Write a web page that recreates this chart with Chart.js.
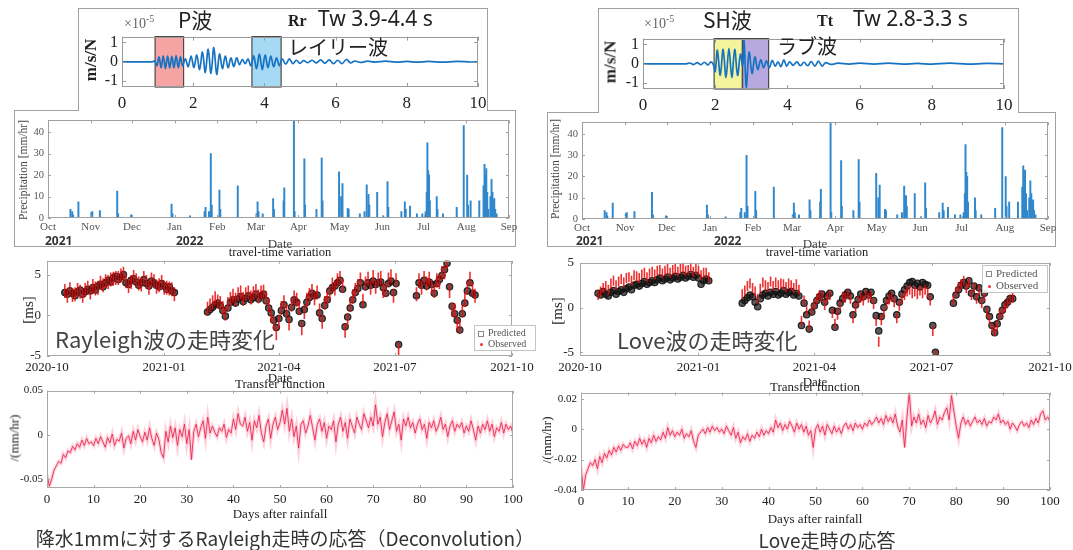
<!DOCTYPE html>
<html lang="ja">
<head>
<meta charset="utf-8">
<script src="https://cdn.jsdelivr.net/npm/chart.js@4.4.1/dist/chart.umd.min.js"></script>
<style>
  body { margin:0; width:1073px; height:550px; position:relative; overflow:hidden; background:#fff; }
  canvas { position:absolute; }
  .t { position:absolute; white-space:nowrap; line-height:1; color:#222; font-family:"Noto Sans CJK JP","Noto Sans",sans-serif; }
  .s { font-family:"Liberation Serif","DejaVu Serif",serif; }
  .ns { font-family:"Noto Sans",sans-serif; }
  .ctr { transform:translate(-50%,-50%); }
  .rot { transform:translate(-50%,-50%) rotate(-90deg); }
  .frame { position:absolute; box-sizing:border-box; border:1px solid #a0a0a0; background:#fff; }
  .legend { position:absolute; box-sizing:border-box; border:1px solid #c4c4c4; background:rgba(255,255,255,0.9);
            font-family:"Liberation Serif",serif; color:#555; padding:1px 3px; }
  .legend div { white-space:nowrap; }
  .sq { display:inline-block; width:4px; height:4px; border:1px solid #888; margin-right:4px; vertical-align:middle; }
  .dot { display:inline-block; width:3px; height:3px; background:#e33; border-radius:50%; margin:0 5px 0 2px; vertical-align:middle; }
</style>
</head>
<body>

<div class="frame" style="left:14px;top:110px;width:502px;height:137px;"></div>
<div class="frame" style="left:78px;top:8px;width:410px;height:103px;border-bottom:none;"></div>
<div class="frame" style="left:547px;top:112px;width:509px;height:135px;"></div>
<div class="frame" style="left:598px;top:8px;width:421px;height:105px;border-bottom:none;"></div>

<canvas id="rayWave"></canvas>
<canvas id="loveWave"></canvas>
<canvas id="rayRain"></canvas>
<canvas id="loveRain"></canvas>
<canvas id="rayTT"></canvas>
<canvas id="loveTT"></canvas>
<canvas id="rayTF"></canvas>
<canvas id="loveTF"></canvas>

<!-- waveform labels -->
<div class="t s" style="left:124px;top:14px;font-size:14px;color:#666;">×10<sup style="font-size:10px;">-5</sup></div>
<div class="t" style="left:178px;top:9px;font-size:21px;">P波</div>
<div class="t s" style="left:288px;top:13px;font-size:16px;font-weight:bold;">Rr</div>
<div class="t ns" style="left:318px;top:8px;font-size:21px;">Tw 3.9-4.4 s</div>
<div class="t" style="left:288px;top:37px;font-size:20px;">レイリー波</div>
<div class="t s rot" style="left:90px;top:60px;font-size:17px;font-weight:bold;">m/s/N</div>

<div class="t s" style="left:644px;top:14px;font-size:14px;color:#666;">×10<sup style="font-size:10px;">-5</sup></div>
<div class="t" style="left:703px;top:9px;font-size:21px;">SH波</div>
<div class="t s" style="left:817px;top:13px;font-size:16px;font-weight:bold;">Tt</div>
<div class="t ns" style="left:853px;top:8px;font-size:21px;">Tw 2.8-3.3 s</div>
<div class="t" style="left:777px;top:36px;font-size:20px;">ラブ波</div>
<div class="t s rot" style="left:610px;top:62px;font-size:17px;font-weight:bold;">m/s/N</div>

<!-- precipitation labels -->
<div class="t s rot" style="left:24px;top:170px;font-size:11.5px;color:#444;">Precipitation [mm/hr]</div>
<div class="t ns" style="left:45px;top:235px;font-size:12px;font-weight:bold;color:#333;">2021</div>
<div class="t ns" style="left:176px;top:235px;font-size:12px;font-weight:bold;color:#333;">2022</div>
<div class="t s ctr" style="left:280px;top:243px;font-size:13px;color:#444;">Date</div>

<div class="t s rot" style="left:556px;top:169px;font-size:11.5px;color:#444;">Precipitation [mm/hr]</div>
<div class="t ns" style="left:576px;top:235px;font-size:12px;font-weight:bold;color:#333;">2021</div>
<div class="t ns" style="left:714px;top:235px;font-size:12px;font-weight:bold;color:#333;">2022</div>
<div class="t s ctr" style="left:815px;top:243px;font-size:13px;color:#444;">Date</div>

<!-- travel-time labels -->
<div class="t s ctr" style="left:280px;top:252px;font-size:12.5px;">travel-time variation</div>
<div class="t s rot" style="left:28px;top:310px;font-size:15px;">[ms]</div>
<div class="t s ctr" style="left:280px;top:377px;font-size:13px;">Date</div>
<div class="t" style="left:55px;top:327px;font-size:22px;color:#444;">Rayleigh波の走時変化</div>
<div class="legend" style="left:474px;top:325px;width:62px;font-size:10px;line-height:11px;">
  <div><span class="sq"></span>Predicted</div>
  <div><span class="dot"></span>Observed</div>
</div>

<div class="t s ctr" style="left:817px;top:252px;font-size:12.5px;">travel-time variation</div>
<div class="t s rot" style="left:557px;top:311px;font-size:15px;">[ms]</div>
<div class="t s ctr" style="left:815px;top:381px;font-size:13px;">Date</div>
<div class="t" style="left:617px;top:328px;font-size:22px;color:#444;">Love波の走時変化</div>
<div class="legend" style="left:982px;top:265px;width:66px;font-size:11px;line-height:12px;">
  <div><span class="sq"></span>Predicted</div>
  <div><span class="dot"></span>Observed</div>
</div>

<!-- transfer function labels -->
<div class="t s ctr" style="left:280px;top:383px;font-size:13px;">Transfer function</div>
<div class="t s rot" style="left:14px;top:438px;font-size:13px;">/(mm/hr)</div>
<div class="t s ctr" style="left:280px;top:513px;font-size:13px;">Days after rainfall</div>
<div class="t ctr" style="left:285px;top:537px;font-size:19px;color:#333;">降水1mmに対するRayleigh走時の応答（Deconvolution）</div>

<div class="t s ctr" style="left:815px;top:386px;font-size:13px;">Transfer function</div>
<div class="t s rot" style="left:546px;top:440px;font-size:13px;">/(mm/hr)</div>
<div class="t s ctr" style="left:815px;top:518px;font-size:13px;">Days after rainfall</div>
<div class="t ctr" style="left:827px;top:539px;font-size:19px;color:#333;">Love走時の応答</div>

<script>
// ---- waveforms (time in s, amplitude in 1e-5 m/s/N) ----
const rayWaveT = [0,0.85,0.92,0.98,1.04,1.1,1.16,1.22,1.28,1.34,1.4,1.46,1.52,1.58,1.64,1.7,1.78,1.86,1.94,2.02,
  2.1,2.18,2.26,2.34,2.42,2.5,2.58,2.66,2.74,2.82,2.9,2.98,3.06,3.14,3.22,3.3,3.38,3.46,3.54,3.62,3.7,3.78,3.86,
  3.94,4.02,4.1,4.18,4.26,4.34,4.42,4.5,4.6,4.7,4.8,4.9,5.0,5.1,5.22,5.34,5.46,5.58,5.7,5.82,5.94,6.06,6.18,6.3,
  6.42,6.54,6.7,6.9,7.1,7.4,7.7,8.0,8.3,8.6,9.0,9.4,9.8,10];
const rayWaveA = [0,0,0.05,-0.2,0.25,-0.3,0.3,-0.35,0.3,-0.32,0.28,-0.3,0.32,-0.3,0.25,-0.2,0.15,-0.25,0.3,-0.3,
  0.35,-0.4,0.5,-0.55,0.65,-0.6,0.75,-0.65,0.4,-0.35,0.3,-0.3,0.2,-0.25,0.2,-0.15,0.12,-0.1,0.15,-0.2,0.3,-0.35,0.4,
  -0.4,0.35,-0.3,0.3,-0.25,0.2,-0.2,0.15,-0.12,0.15,-0.1,0.08,-0.08,0.06,-0.05,0.08,-0.06,0.1,-0.08,0.1,-0.1,0.08,-0.1,0.12,
  -0.06,0.04,-0.03,0.03,-0.02,0.03,-0.02,0.02,-0.02,0.02,-0.02,0.02,-0.01,0];
const rayWinStart = [0.93, 3.65];
const rayWinEnd = [1.73, 4.47];

const loveWaveT = [0,1.2,1.3,1.4,1.5,1.6,1.7,1.8,1.88,1.95,2.0,2.06,2.14,2.22,2.3,2.38,2.46,2.54,2.62,2.7,2.76,2.8,
  2.86,2.94,3.02,3.1,3.18,3.26,3.34,3.42,3.5,3.58,3.66,3.74,3.82,3.9,3.98,4.06,4.16,4.26,4.36,4.46,4.56,4.66,4.76,
  4.86,4.96,5.06,5.2,5.4,5.7,6.0,6.4,6.8,7.2,7.6,8.0,8.5,9.0,9.5,10];
const loveWaveA = [0,0,0.04,-0.04,0.06,-0.05,0.08,-0.06,0.1,-0.05,-0.4,0.7,-0.6,0.75,-0.7,0.8,-0.7,0.75,-0.6,0.5,-0.1,1.2,
  -1.2,0.6,-0.5,0.35,-0.3,0.2,-0.2,0.15,-0.2,0.18,-0.12,0.1,-0.15,0.2,-0.12,0.1,-0.08,0.1,-0.1,0.08,-0.1,0.12,-0.12,
  0.14,-0.12,0.06,-0.03,0.03,-0.02,0.03,-0.02,0.03,-0.02,0.02,-0.02,0.03,-0.02,0.02,0];
const loveWinStart = [1.97, 2.76];
const loveWinEnd = [2.75, 3.48];

const waveXTicks = [0, 2, 4, 6, 8, 10];
const waveYTicks = [-1, 0, 1];

// ---- precipitation (days since 2021-10-01, mm/hr) ----
const rainDay = [16.3,17.6,18.2,22.1,31.5,32.2,37.7,50.3,51,60.4,89.8,90.5,103.2,113.8,114.5,117,118.3,119,124.6,125.2,
  137.9,151.5,152.3,153,156,163.6,164.2,171.2,171.7,178.7,179.2,186.3,186.8,195.1,198.9,199.5,211.5,213,214,217.8,
  218.5,226.6,230,231.6,232.9,233.5,239.2,243.7,246.7,247.3,256.8,259.3,260,263.1,268.1,272,274.4,275.2,275.7,276.3,
  276.9,277.5,282.5,283,287,297,302.1,304.6,305.2,307.1,313.4,316.5,317.2,317.8,318.5,319.2,320,321.5,322.3,323,
  323.6,324.3,325,326];
const rainMm = [4,3,1.5,7.5,2.5,3,3.5,12.5,2,1.5,6.5,2,1,3,5,3,30,6,13,4,
  15,2,7.5,3,2,9,4,8,14,45,3,27.5,6,4,28,8,21.5,10,16,4.5,
  4,2,3,15.5,11,6,12,1,17,5,3,7.5,4,5.5,2,2,3,12,35,22,
  20,8,10,4,2,5,43,20,6,8,8,15,25,20,23,12,4,10,18,12,
  8,9,4,2];
const monthDays = [0,31,61,92,123,151,182,212,243,273,304,335];
const monthNames = ['Oct','Nov','Dec','Jan','Feb','Mar','Apr','May','Jun','Jul','Aug','Sep'];
const rainYTicks = [0, 10, 20, 30, 40];

// ---- travel-time variation (days since 2020-10-01, ms) ----
const ttDays = [14,16,18,20,22,24,26,28,30,32,34,36,38,40,42,44,46,48,50,52,54,56,58,60,62,64,66,68,70,72,74,76,78,
  80,82,84,86,88,90,92,94,96,98,100,
  126,128,130,132,134,136,138,140,142,144,146,148,150,152,154,156,158,160,162,164,166,168,170,172,174,176,178,180,
  182,184,186,188,190,192,194,196,198,200,202,204,206,208,210,212,214,216,218,220,222,224,226,228,230,232,234,236,
  238,240,242,244,246,248,250,252,254,256,258,260,262,264,266,268,270,272,274,276,
  290,292,294,296,298,300,302,304,306,308,310,312,314,316,318,320,322,324,326,328,330,332,334,336];
const rayPred = [2.8,2.6,3.0,2.7,2.4,2.9,3.1,2.6,2.9,3.2,3.0,3.4,3.1,3.6,3.8,3.5,4.0,4.3,4.1,4.6,4.8,4.4,4.7,5.0,4.0,
  3.8,4.3,4.5,4.1,3.7,4.0,4.4,3.9,3.6,4.2,4.0,3.7,3.5,3.9,3.6,3.2,3.5,3.0,2.8,
  0.4,0.7,1.0,1.3,1.5,1.2,0.6,-0.1,0.9,1.6,1.9,1.5,2.0,2.3,1.7,2.1,2.4,1.9,2.2,2.6,2.0,2.4,2.6,1.8,0.9,0.3,-0.6,-1.5,
  -0.4,0.6,1.3,0.2,-0.5,1.0,1.9,1.6,0.5,-1.0,0.7,1.6,2.2,2.7,2.4,2.5,0.3,-0.4,1.2,1.9,3.0,3.4,3.6,4.0,4.3,3.2,-1.4,-0.2,
  0.9,1.9,2.8,3.3,4.0,1.3,3.5,4.0,3.7,4.2,3.8,4.0,4.1,3.4,2.7,3.9,4.2,2.8,3.9,-3.6,
  2.4,4.0,3.7,4.3,3.6,4.1,3.8,2.7,3.9,4.4,4.9,5.6,6.4,3.5,1.1,0.2,-0.6,-1.8,0.2,1.5,3.0,4.0,2.7,2.5];
const rayObs = [3.0,2.4,3.2,2.5,2.6,3.1,2.9,2.4,3.1,3.4,2.8,3.6,3.3,3.4,4.0,3.7,4.2,4.1,4.4,4.5,4.6,4.6,4.9,5.1,4.2,
  3.6,4.1,4.7,4.3,3.9,3.8,4.6,4.1,3.4,4.4,4.2,3.5,3.7,4.1,3.4,3.4,3.3,3.2,2.6,
  0.8,1.2,1.6,2.1,1.7,1.5,0.9,0.2,1.4,2.0,2.4,1.9,2.6,2.8,2.0,2.6,2.8,2.2,2.7,3.0,2.3,2.8,2.9,2.1,1.2,0.0,-0.9,-2.2,
  -0.8,0.9,1.6,0.5,-1.0,1.3,2.2,1.9,0.9,-1.6,0.4,1.9,2.5,3.0,2.1,2.8,0.6,-0.8,1.5,2.2,2.7,3.8,3.3,4.3,4.6,3.6,-1.9,-0.6,
  1.3,2.3,3.1,3.6,4.4,1.8,3.9,4.5,3.4,4.7,3.5,4.4,4.6,3.0,3.1,4.4,4.8,2.4,4.3,-4.2,
  2.6,4.3,3.4,4.6,3.9,4.5,3.5,3.0,4.3,4.1,5.2,5.3,6.6,3.0,0.7,0.6,-1.0,-1.4,0.6,1.9,3.4,4.5,3.1,2.4];
const lovePred = [1.6,1.4,1.8,1.5,1.3,1.7,1.9,1.5,1.8,2.0,1.7,2.1,2.3,2.0,2.5,2.6,2.4,2.7,2.9,2.6,2.8,3.0,2.8,3.1,3.3,
  3.0,3.2,3.4,3.1,3.3,3.5,3.2,3.4,3.6,3.3,3.5,3.7,3.4,3.6,3.3,2.6,3.0,3.2,3.0,
  0.5,0.8,1.1,1.4,1.2,0.6,0.1,1.0,1.4,1.6,1.3,1.7,1.5,1.8,1.4,1.6,1.9,1.5,1.7,1.8,1.4,1.6,1.3,-2.0,0.5,-0.8,-2.4,-0.5,
  0.2,0.8,1.2,1.5,0.6,1.3,1.6,-0.3,-2.2,-0.4,0.5,1.0,1.4,1.7,1.3,-0.8,0.3,0.9,1.5,1.2,1.8,1.4,1.7,0.8,-0.9,-2.6,-1.0,0.0,
  0.8,1.3,1.6,1.0,-0.8,0.6,1.5,2.0,2.4,2.8,2.9,2.5,2.7,2.3,2.8,2.6,2.5,1.2,-2.0,-5.0,
  0.5,1.4,2.0,2.5,2.8,2.4,3.0,1.6,2.4,1.2,2.2,0.8,1.6,-0.2,-1.0,-2.0,-2.8,-1.8,-1.0,-0.3,0.3,0.6,1.0,1.0];
const loveObs = [1.4,1.8,2.2,2.4,2.0,2.7,3.0,2.5,2.9,3.2,2.8,3.3,3.4,3.0,3.6,3.5,3.3,3.7,3.9,3.4,3.8,4.0,3.7,4.1,4.2,
  3.8,4.1,4.3,3.9,4.2,4.4,4.0,4.3,4.5,4.1,4.2,4.6,4.0,4.3,4.1,3.6,3.9,3.9,3.4,
  1.5,1.9,2.4,2.7,2.2,1.8,1.0,2.1,2.8,2.5,2.3,2.9,2.4,2.8,2.5,2.7,2.6,2.3,2.7,2.5,2.2,2.6,2.0,-1.5,0.8,-0.4,-2.0,-0.2,
  0.4,1.0,1.4,1.2,0.3,1.1,1.4,-0.6,-1.8,-0.8,0.2,1.2,1.1,1.5,1.0,-1.2,0.0,0.7,1.2,0.8,1.5,1.1,1.3,0.4,-1.5,-3.8,-1.4,-0.6,
  0.4,0.9,1.2,0.6,-1.2,0.2,1.0,1.4,1.8,2.0,1.6,1.8,1.5,1.9,1.6,2.0,1.7,0.8,-2.6,-5.3,
  0.8,1.7,2.3,2.6,3.0,2.2,2.8,1.4,2.2,1.0,2.0,0.5,1.3,-0.5,-1.3,-2.3,-2.6,-2.0,-0.8,-0.5,0.1,0.5,0.9,1.1];
const ttTickDays = [0, 92, 182, 273, 365];
const ttTickNames = ['2020-10','2021-01','2021-04','2021-07','2021-10'];
const ttYTicks = [-5, 0, 5];

// ---- transfer functions (one value every half day, 0..100 days) ----
const tfStep = 0.5;
const rayTF = [-0.045,-0.058,-0.05,-0.04,-0.035,-0.03,-0.032,-0.022,-0.026,-0.018,-0.02,-0.013,-0.017,-0.01,-0.014,-0.006,-0.012,-0.004,-0.01,-0.008,
  -0.012,-0.004,-0.01,-0.002,-0.008,-0.014,-0.003,-0.009,0.001,-0.012,-0.005,-0.007,0.002,-0.015,-0.004,-0.001,-0.01,0.004,-0.006,0.006,
  -0.002,-0.008,0.003,-0.006,0.008,-0.004,-0.012,0.002,-0.005,-0.02,-0.026,0.004,-0.008,0.01,-0.003,0.008,-0.012,0.006,-0.002,0.012,
  -0.01,0.006,-0.028,0.004,0.012,-0.002,0.008,0.016,-0.004,0.02,0.002,0.01,0.003,-0.002,0.008,0.004,0.012,-0.003,0.006,0.002,
  0.018,0.006,0.024,0.012,0.01,0.02,0.004,0.014,-0.006,0.016,0.008,0.022,0.002,-0.008,0.01,0.018,-0.004,0.012,0.02,0.006,
  0.014,0.028,0.012,0.03,0.004,0.018,-0.002,0.01,-0.015,0.012,0.016,0.002,0.01,0.022,0.008,-0.006,0.012,0.018,0.004,0.014,
  -0.004,0.01,0.006,0.016,-0.008,0.012,0.02,0.004,0.014,-0.004,0.018,0.01,0.002,0.02,0.012,0.006,0.024,0.016,0.008,0.02,
  0.01,0.034,0.012,0.02,-0.002,0.014,0.024,0.006,0.016,0.026,0.004,0.012,-0.006,0.018,0.01,0.02,0.008,0.014,0.002,0.012,
  0.018,0.006,0.012,-0.004,0.014,0.008,0.016,0.004,0.01,0.02,0.006,0.012,-0.002,0.01,0.016,0.004,0.012,0.008,0.014,0.002,
  0.01,0.004,0.016,0.006,-0.006,0.01,0.002,0.012,0.006,0.016,0.004,0.012,-0.002,0.008,0.004,0.014,0.002,0.012,0.006,0.01,0.002];
const loveTF = [-0.025,-0.04,-0.03,-0.026,-0.022,-0.024,-0.02,-0.026,-0.018,-0.022,-0.016,-0.019,-0.014,-0.017,-0.012,-0.015,-0.011,-0.014,-0.01,-0.012,
  -0.012,-0.009,-0.013,-0.008,-0.011,-0.006,-0.01,-0.007,-0.012,-0.006,-0.009,-0.004,-0.008,-0.005,-0.007,-0.002,-0.006,0.001,-0.004,-0.001,
  -0.005,-0.002,-0.004,0.0,-0.006,-0.003,-0.005,-0.001,-0.008,-0.012,-0.004,-0.002,0.0,-0.003,0.001,-0.002,0.002,-0.001,0.001,-0.002,
  0.0,-0.003,0.002,-0.001,-0.004,0.001,-0.006,-0.002,-0.009,-0.005,-0.007,-0.003,-0.008,-0.004,-0.006,-0.002,-0.005,0.0,-0.004,-0.001,
  -0.003,0.001,-0.002,0.006,0.001,0.004,-0.001,0.003,0.0,0.005,0.002,-0.002,0.004,0.0,0.003,-0.002,0.002,-0.004,-0.001,-0.012,
  0.0,0.003,-0.002,0.002,-0.004,0.003,0.0,-0.003,0.002,-0.002,0.001,-0.003,0.002,0.004,0.0,0.003,-0.001,0.004,0.001,0.003,
  0.0,0.004,0.002,0.006,0.003,0.005,0.008,0.004,0.007,0.003,0.009,0.005,0.008,0.004,0.01,0.002,-0.002,0.006,-0.012,0.008,
  0.024,0.002,0.008,0.004,0.01,0.003,0.006,0.001,0.009,0.004,0.007,0.012,0.003,0.008,0.006,0.011,0.014,0.006,0.022,0.012,
  0.002,-0.006,0.004,0.008,0.003,0.006,0.002,0.005,0.008,0.004,0.006,0.003,0.007,0.002,0.005,0.004,0.008,0.006,0.01,0.004,
  0.006,0.003,0.005,0.0,0.004,0.002,-0.001,0.003,0.005,0.002,0.004,0.001,0.006,0.003,0.007,0.004,0.01,0.012,0.006,0.008,0.005];
const tfXTicks = [0,10,20,30,40,50,60,70,80,90,100];
const rayTFYTicks = [-0.05, 0, 0.05];
const loveTFYTicks = [-0.04, -0.02, 0, 0.02];

// ---------------------------------------------------------------
const SERIF = '"Liberation Serif", "DejaVu Serif", serif';

// matlab-like box with inward tick marks
const boxPlugin = {
  id: 'box',
  afterDraw(chart, args, opts) {
    const { ctx, chartArea: a, scales } = chart;
    const L = opts.len || 4;
    ctx.save();
    ctx.strokeStyle = opts.color || '#8a8a8a';
    ctx.lineWidth = 1;
    ctx.strokeRect(Math.round(a.left) + 0.5, Math.round(a.top) + 0.5, Math.round(a.width) - 1, Math.round(a.height) - 1);
    ctx.beginPath();
    scales.x.ticks.forEach(t => {
      const p = Math.round(scales.x.getPixelForValue(t.value)) + 0.5;
      ctx.moveTo(p, a.bottom); ctx.lineTo(p, a.bottom - L);
      ctx.moveTo(p, a.top); ctx.lineTo(p, a.top + L);
    });
    scales.y.ticks.forEach(t => {
      const p = Math.round(scales.y.getPixelForValue(t.value)) + 0.5;
      ctx.moveTo(a.left, p); ctx.lineTo(a.left + L, p);
      ctx.moveTo(a.right, p); ctx.lineTo(a.right - L, p);
    });
    ctx.stroke();
    ctx.restore();
  }
};

// shaded time windows on the waveforms
const windowPlugin = {
  id: 'windows',
  beforeDatasetsDraw(chart, args, opts) {
    if (!opts.start) return;
    const { ctx, chartArea: a, scales: { x } } = chart;
    ctx.save();
    opts.start.forEach((s, i) => {
      const x0 = x.getPixelForValue(s), x1 = x.getPixelForValue(opts.end[i]);
      ctx.fillStyle = opts.fill[i];
      ctx.fillRect(x0, a.top, x1 - x0, a.height);
      ctx.strokeStyle = '#4a4a4a';
      ctx.lineWidth = 1.2;
      ctx.strokeRect(x0, a.top, x1 - x0, a.height);
    });
    ctx.restore();
  }
};

function axis(ticks, names, min, max, font, pad, color) {
  return {
    type: 'linear', min: min, max: max, offset: false,
    grid: { display: false, drawTicks: false }, border: { display: false },
    afterBuildTicks: s => { s.ticks = ticks.map(v => ({ value: v })); },
    ticks: {
      autoSkip: false, maxRotation: 0, minRotation: 0, padding: pad, color: color,
      font: { family: SERIF, size: font },
      callback: (v, i) => names ? names[i] : String(ticks[i])
    }
  };
}

function makeChart(id, box, ml, mb, type, datasets, xAxis, yAxis, extra) {
  const PT = 10, PR = 30;
  const cv = document.getElementById(id);
  cv.width = box[2] - box[0] + ml + PR;
  cv.height = box[3] - box[1] + PT + mb;
  cv.style.left = (box[0] - ml) + 'px';
  cv.style.top = (box[1] - PT) + 'px';
  xAxis.afterFit = s => { s.height = mb; };
  yAxis.afterFit = s => { s.width = ml; };
  return new Chart(cv, {
    type: type,
    data: { datasets: datasets },
    options: {
      responsive: false, animation: false, events: [],
      layout: { padding: { top: PT, right: PR, left: 0, bottom: 0 }, autoPadding: false },
      plugins: Object.assign({ legend: { display: false }, tooltip: { enabled: false } }, extra || {}),
      scales: { x: xAxis, y: yAxis }
    },
    plugins: [windowPlugin, boxPlugin]
  });
}

const pts = (xs, ys) => ys.map((v, i) => ({ x: xs[i], y: v }));
const tfPts = arr => arr.map((v, i) => ({ x: i * tfStep, y: v }));

// waveforms
function waveChart(id, box, t, a, ws, we, fills) {
  makeChart(id, box, 40, 30, 'line', [{
      data: pts(t, a), borderColor: '#1673c2', borderWidth: 1.7, pointRadius: 0, tension: 0.35
    }],
    axis(waveXTicks, null, 0, 10, 17, 6, '#222'),
    axis(waveYTicks, null, -1.3, 1.3, 16, 4, '#222'),
    { windows: { start: ws, end: we, fill: fills }, box: { color: '#9a9a9a', len: 4 } });
}
waveChart('rayWave', [122, 33, 478, 87], rayWaveT, rayWaveA, rayWinStart, rayWinEnd, ['#f6a3a3', '#a6daf4']);
waveChart('loveWave', [643, 35, 1004, 89], loveWaveT, loveWaveA, loveWinStart, loveWinEnd, ['#f4f49c', '#b8a8e0']);

// precipitation
function rainChart(id, box) {
  makeChart(id, box, 30, 22, 'bar', [{
      data: pts(rainDay, rainMm), backgroundColor: '#3088cc', borderWidth: 0, barThickness: 1.3
    }],
    axis(monthDays, monthNames, 0, 335, 11, 3, '#555'),
    axis(rainYTicks, null, 0, 45.5, 10.5, 4, '#555'),
    { box: { color: '#a0a0a0', len: 3 } });
}
rainChart('rayRain', [48, 120, 509, 218]);
rainChart('loveRain', [582, 122, 1048, 219]);

// travel-time variation
function ttChart(id, box, pred, obs, yMin, yMax, obsLen) {
  makeChart(id, box, 35, 24, 'scatter', [
      { data: pts(ttDays, obs), pointStyle: 'line', rotation: 90, pointRadius: obsLen,
        borderColor: 'rgba(235,10,10,0.85)', borderWidth: 1.6, order: 0 },
      { data: pts(ttDays, pred), pointStyle: 'circle', pointRadius: 3.2,
        borderColor: 'rgba(20,20,20,0.9)', backgroundColor: 'rgba(20,20,20,0.7)', borderWidth: 1.2, order: 1 }
    ],
    axis(ttTickDays, ttTickNames, 0, 365, 13, 4, '#222'),
    axis(ttYTicks, null, yMin, yMax, 13, 6, '#222'),
    { box: { color: '#a8a8a8', len: 3 } });
}
ttChart('rayTT', [47, 257, 512, 356], rayPred, rayObs, -5, 6.7, 7);
ttChart('loveTT', [580, 259, 1050, 356], lovePred, loveObs, -5.4, 5, 5);

// transfer functions
function tfChart(id, box, vals, yTicks, yMin, yMax) {
  makeChart(id, box, 40, 24, 'line', [
      { data: tfPts(vals), borderColor: 'rgba(230,25,70,0.9)', borderWidth: 0.9, pointRadius: 0, order: 0 },
      { data: tfPts(vals), borderColor: 'rgba(255,120,150,0.35)', borderWidth: 3.5, pointRadius: 0, order: 1 }
    ],
    axis(tfXTicks, null, 0, 100, 13, 4, '#222'),
    axis(yTicks, null, yMin, yMax, 11, 4, '#222'),
    { box: { color: '#a8a8a8', len: 3 } });
}
tfChart('rayTF', [47, 390, 513, 488], rayTF, rayTFYTicks, -0.06, 0.05);
tfChart('loveTF', [581, 392, 1050, 490], loveTF, loveTFYTicks, -0.04, 0.024);
</script>
</body>
</html>
